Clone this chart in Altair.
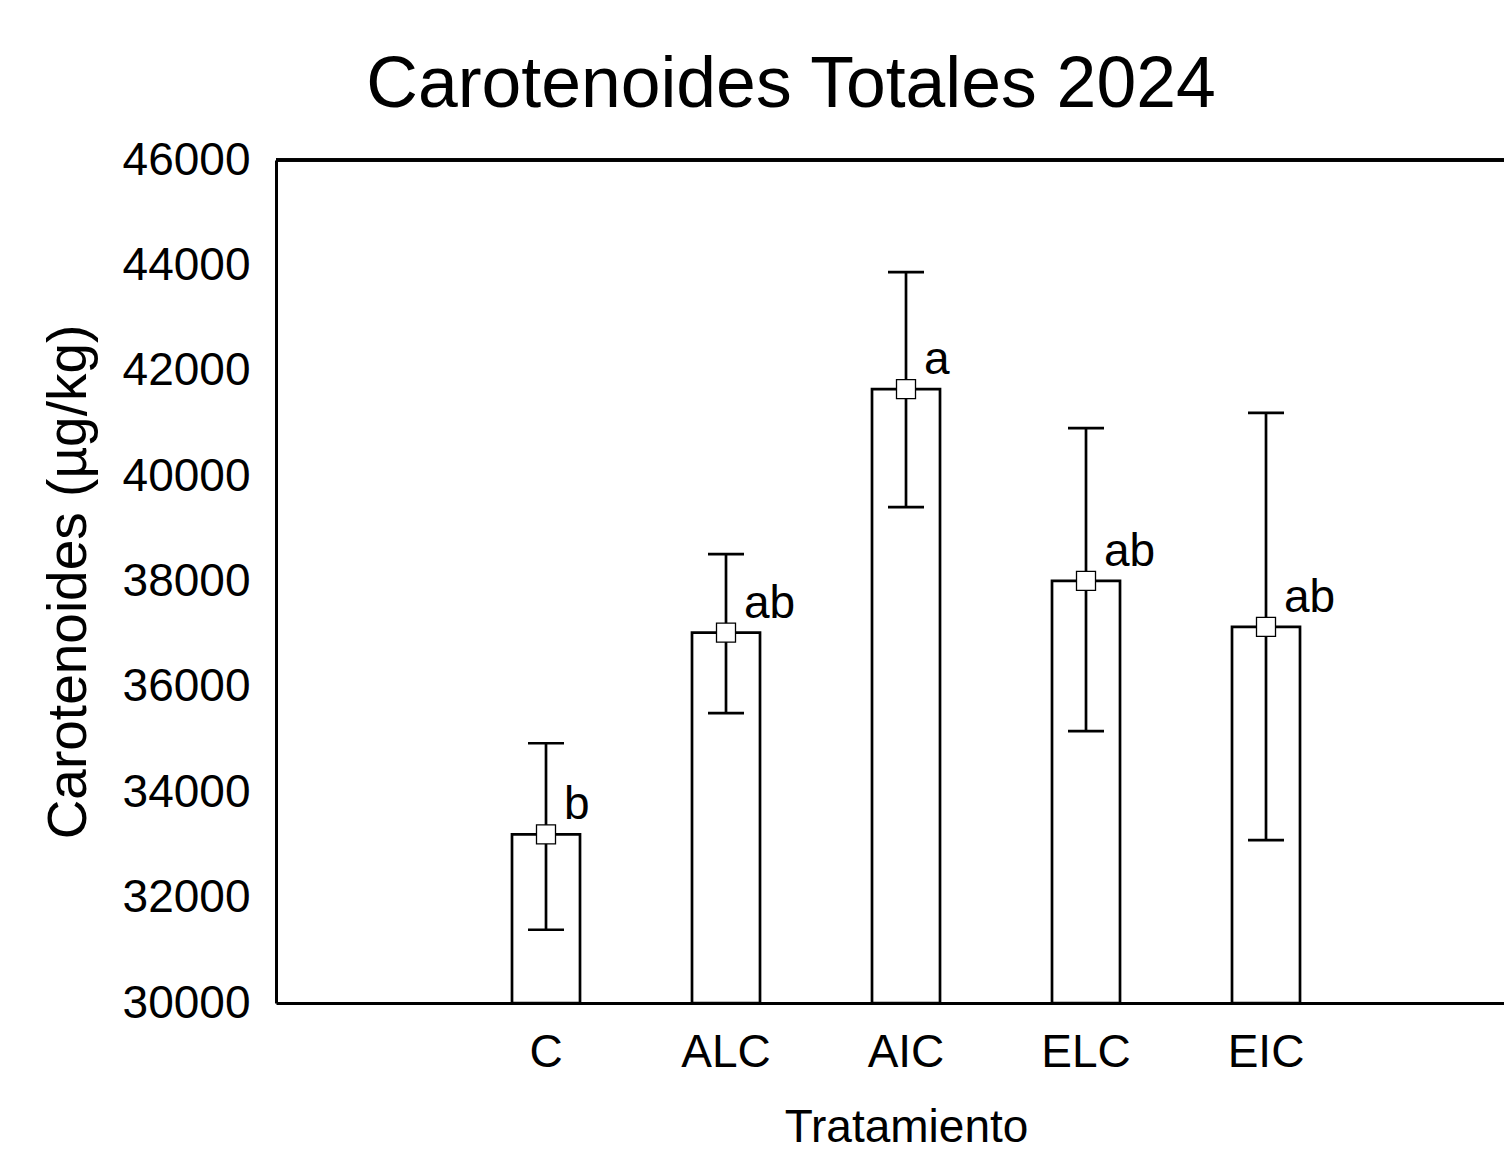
import altair as alt
import pandas as pd

# ---- data ----
cats = ["C", "ALC", "AIC", "ELC", "EIC"]
means = [33200, 37030, 41650, 38010, 37140]
upper = [34930, 38520, 43870, 40910, 41200]
lower = [31390, 35500, 39410, 35160, 33090]
letters = ["b", "ab", "a", "ab", "ab"]
y_ticks = [30000, 32000, 34000, 36000, 38000, 40000, 42000, 44000, 46000]

df = pd.DataFrame({"trat": cats, "media": means, "sup": upper, "inf": lower, "letra": letters})

FONT = "Liberation Sans"
W, H = 1228, 843

xenc = alt.X(
    "trat:N",
    sort=cats,
    scale=alt.Scale(type="band", paddingInner=0, paddingOuter=0.9111, align=0.5488),
    axis=alt.Axis(
        title="Tratamiento", labelAngle=0, ticks=False, tickSize=0, labelPadding=27,
        domainColor="black", domainWidth=3, grid=False,
        labelFont=FONT, labelFontSize=46, labelColor="black",
        titleFont=FONT, titleFontSize=46, titleFontWeight="normal", titleColor="black",
        titlePadding=30, titleX=630,
    ),
)

yscale = alt.Scale(domain=[y_ticks[0], y_ticks[-1]], nice=False, zero=False)
yaxis = alt.Axis(
    title="Carotenoides (µg/kg)", values=y_ticks, format="d", ticks=False, tickSize=0,
    labelPadding=26, domainColor="black", domainWidth=3, grid=False,
    labelFont=FONT, labelFontSize=46, labelColor="black",
    titleFont=FONT, titleFontSize=55, titleFontWeight="normal", titleColor="black",
    titlePadding=25,
)


def Y(field):
    return alt.Y(field, scale=yscale, axis=yaxis)


base = alt.Chart(df)

bars = base.mark_bar(size=68, fill="white", stroke="black", strokeWidth=2.7, opacity=1).encode(
    x=xenc, y=Y("media:Q"), y2=alt.datum(y_ticks[0])
)
err = base.mark_rule(color="black", strokeWidth=2.7).encode(x=xenc, y=Y("inf:Q"), y2="sup:Q")
cap_hi = base.mark_tick(orient="horizontal", size=36, thickness=2.7, color="black", opacity=1).encode(
    x=xenc, y=Y("sup:Q")
)
cap_lo = base.mark_tick(orient="horizontal", size=36, thickness=2.7, color="black", opacity=1).encode(
    x=xenc, y=Y("inf:Q")
)
pts = base.mark_point(shape="square", size=361, filled=True, fill="white", stroke="black",
                      strokeWidth=1.3, opacity=1).encode(x=xenc, y=Y("media:Q"))
txt = base.mark_text(align="left", baseline="alphabetic", dx=18, dy=-15, font=FONT, fontSize=46,
                     color="black").encode(x=xenc, y=Y("media:Q"), text="letra:N")
top_line = base.mark_rule(color="black", strokeWidth=3).encode(
    x=alt.value(0), x2=alt.value(W), y=alt.value(0)
)

chart = (
    alt.layer(bars, err, cap_hi, cap_lo, pts, txt, top_line)
    .properties(
        width=W,
        height=H,
        autosize=alt.AutoSizeParams(type="none"),
        padding={"left": 268, "top": 152, "right": 0, "bottom": 150},
        title=alt.TitleParams(
            "Carotenoides Totales 2024", font=FONT, fontSize=71.5, fontWeight="normal",
            color="black", anchor="middle", frame="group", baseline="alphabetic",
            offset=-41, dx=-99,
        ),
    )
    .configure_view(strokeWidth=0)
    .configure(background="white")
)

chart.save("out.html", embed_options={"renderer": "svg", "actions": False})
